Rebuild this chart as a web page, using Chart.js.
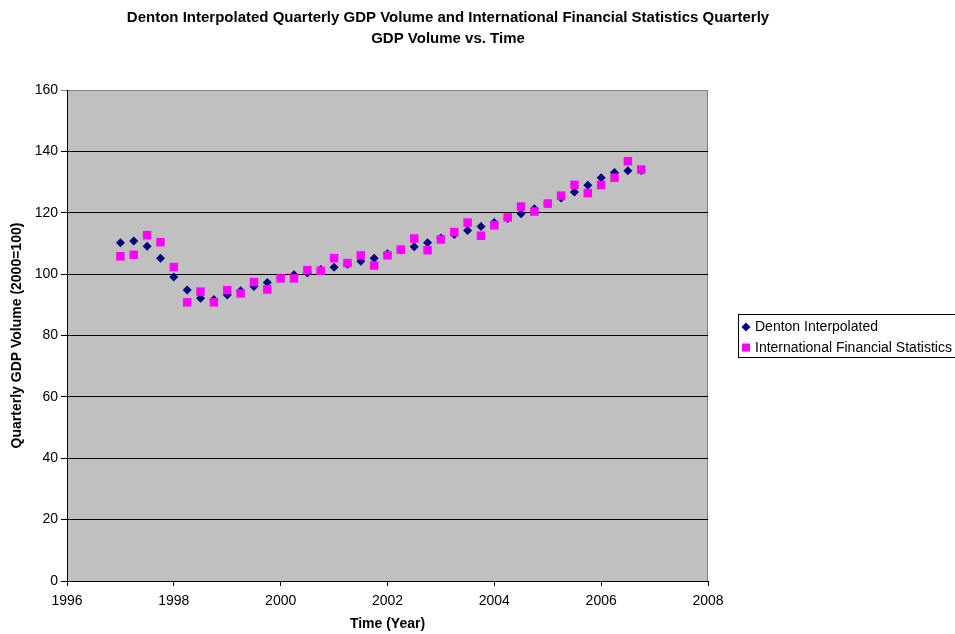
<!DOCTYPE html>
<html>
<head>
<meta charset="utf-8">
<script src="https://cdn.jsdelivr.net/npm/chart.js@4"></script>
<style>
  html, body { margin: 0; padding: 0; background: #fff; }
  #wrap { width: 955px; height: 634px; }
</style>
</head>
<body>
<div id="wrap"><canvas id="chartGdp" width="955" height="634"></canvas></div>
<script>
// quarters 1997Q1 .. 2006Q4
const quarters = [1997, 1997.25, 1997.5, 1997.75, 1998, 1998.25, 1998.5, 1998.75,
    1999, 1999.25, 1999.5, 1999.75, 2000, 2000.25, 2000.5, 2000.75,
    2001, 2001.25, 2001.5, 2001.75, 2002, 2002.25, 2002.5, 2002.75,
    2003, 2003.25, 2003.5, 2003.75, 2004, 2004.25, 2004.5, 2004.75,
    2005, 2005.25, 2005.5, 2005.75, 2006, 2006.25, 2006.5, 2006.75];

const denton = [110.2, 110.8, 109.1, 105.2, 99.1, 94.8, 92.1, 91.7,
    93.2, 94.6, 96.0, 97.3, 98.7, 99.8, 100.4, 101.5,
    102.2, 103.2, 104.2, 105.2, 106.6, 107.9, 108.9, 110.2,
    111.8, 112.9, 114.2, 115.5, 116.8, 118.1, 119.7, 121.3,
    123.0, 124.8, 126.8, 129.0, 131.4, 133.1, 133.7, 133.8];

const ifs = [105.8, 106.3, 112.7, 110.4, 102.3, 90.8, 94.3, 90.8,
    94.8, 93.7, 97.4, 95.0, 98.6, 98.6, 101.3, 101.1,
    105.2, 103.6, 106.1, 102.8, 106.1, 108.0, 111.6, 107.8,
    111.3, 113.7, 116.8, 112.5, 115.9, 118.5, 122.0, 120.4,
    123.0, 125.6, 129.1, 126.4, 129.0, 131.4, 136.8, 134.1];

const xTicks = [1996, 1998, 2000, 2002, 2004, 2006, 2008];
const yTicks = [0, 20, 40, 60, 80, 100, 120, 140, 160];

const titleLines = ['Denton Interpolated Quarterly GDP Volume and International Financial Statistics Quarterly',
    'GDP Volume vs. Time'];
const seriesNames = ['Denton Interpolated', 'International Financial Statistics'];

const FONT = '"Liberation Sans", Arial, sans-serif';

const toPoints = vals => vals.map((v, i) => ({ x: quarters[i], y: v }));

// fondo gris del área de trazado + borde
const plotBg = {
    id: 'plotBg',
    beforeDraw(chart) {
        const { ctx, chartArea: a } = chart;
        ctx.save();
        ctx.fillStyle = '#c0c0c0';
        ctx.fillRect(a.left, a.top, a.right - a.left, a.bottom - a.top);
        ctx.strokeStyle = '#808080';
        ctx.lineWidth = 1;
        ctx.strokeRect(a.left + 0.5, a.top + 0.5, a.right - a.left - 1, a.bottom - a.top);
        ctx.restore();
    }
};

// título en dos líneas y leyenda con recuadro
const titleAndLegend = {
    id: 'titleAndLegend',
    afterDraw(chart) {
        const { ctx } = chart;
        ctx.save();
        ctx.fillStyle = '#000';
        ctx.textAlign = 'center';
        ctx.textBaseline = 'alphabetic';
        ctx.font = 'bold 15px ' + FONT;
        ctx.fillText(titleLines[0], 448, 22);
        ctx.fillText(titleLines[1], 448, 43);

        // leyenda
        const lx = 738, ly = 314, lw = 240, lh = 43;
        ctx.fillStyle = '#fff';
        ctx.fillRect(lx, ly, lw, lh);
        ctx.strokeStyle = '#000';
        ctx.lineWidth = 1;
        ctx.strokeRect(lx + 0.5, ly + 0.5, lw, lh);

        ctx.font = '14px ' + FONT;
        ctx.textAlign = 'left';
        ctx.textBaseline = 'middle';
        chart.data.datasets.forEach((ds, i) => {
            const cy = 327 + i * 20.5;
            const cx = 746;
            ctx.fillStyle = ds.backgroundColor;
            ctx.beginPath();
            if (ds.pointStyle === 'rectRot') {
                ctx.moveTo(cx - 4.5, cy);
                ctx.lineTo(cx, cy - 4.5);
                ctx.lineTo(cx + 4.5, cy);
                ctx.lineTo(cx, cy + 4.5);
                ctx.closePath();
            } else {
                ctx.rect(cx - 4, cy - 4, 8, 8);
            }
            ctx.fill();
            ctx.fillStyle = '#000';
            ctx.fillText(ds.label, 755, cy + 0.5);
        });
        ctx.restore();
    }
};

new Chart(document.getElementById('chartGdp'), {
    type: 'scatter',
    data: {
        datasets: [
            {
                label: seriesNames[0],
                data: toPoints(denton),
                backgroundColor: '#000080',
                borderWidth: 0,
                pointStyle: 'rectRot',
                pointRadius: 4.5,
                pointHoverRadius: 4.5,
                order: 2
            },
            {
                label: seriesNames[1],
                data: toPoints(ifs),
                backgroundColor: '#ff00ff',
                borderWidth: 0,
                pointStyle: 'rect',
                pointRadius: 6,
                pointHoverRadius: 6,
                order: 1
            }
        ]
    },
    options: {
        responsive: false,
        animation: false,
        events: [],
        layout: { padding: { left: 0, top: 90, right: 247, bottom: 0 } },
        plugins: {
            legend: { display: false },
            title: { display: false },
            tooltip: { enabled: false }
        },
        scales: {
            x: {
                type: 'linear',
                min: 1996,
                max: 2008,
                afterFit: s => { s.height = 53; },
                afterBuildTicks: s => { s.ticks = xTicks.map(v => ({ value: v })); },
                ticks: {
                    color: '#000',
                    font: { family: FONT, size: 14 },
                    padding: 7,
                    maxRotation: 0,
                    callback: v => String(v)
                },
                grid: { drawOnChartArea: false, drawTicks: true, tickLength: 5, color: '#000' },
                border: { display: true, color: '#000', width: 1 },
                title: {
                    display: true,
                    text: 'Time (Year)',
                    color: '#000',
                    font: { family: FONT, size: 14, weight: 'bold' },
                    padding: { top: 0, bottom: 1 }
                }
            },
            y: {
                min: 0,
                max: 160,
                afterFit: s => { s.width = 67; },
                afterBuildTicks: s => { s.ticks = yTicks.map(v => ({ value: v })); },
                ticks: {
                    color: '#000',
                    font: { family: FONT, size: 14 },
                    padding: 3,
                    callback: v => String(v)
                },
                grid: {
                    drawTicks: true,
                    tickLength: 6,
                    color: c => (c.tick && c.tick.value === 160) ? '#808080' : '#000'
                },
                border: { display: true, color: '#000', width: 1 },
                title: {
                    display: true,
                    text: 'Quarterly GDP Volume (2000=100)',
                    color: '#000',
                    font: { family: FONT, size: 14, weight: 'bold' },
                    padding: { top: 9, bottom: 0 }
                }
            }
        }
    },
    plugins: [plotBg, titleAndLegend]
});
</script>
</body>
</html>
